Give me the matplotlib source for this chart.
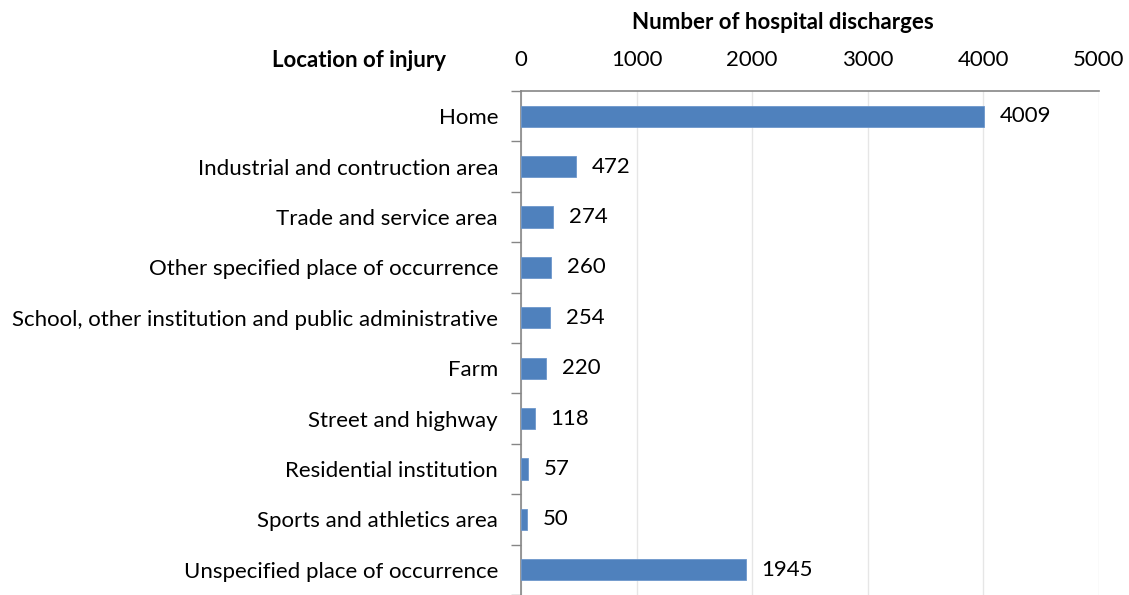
import matplotlib.pyplot as plt
from matplotlib.transforms import offset_copy

plt.rcParams['font.family'] = ['Lato', 'DejaVu Sans']

locations = ["Home", "Industrial and contruction area", "Trade and service area",
             "Other specified place of occurrence",
             "School, other institution and public administrative", "Farm",
             "Street and highway", "Residential institution",
             "Sports and athletics area", "Unspecified place of occurrence"]
discharges = [4009, 472, 274, 260, 254, 220, 118, 57, 50, 1945]
xticks = [0, 1000, 2000, 3000, 4000, 5000]

fig = plt.figure(figsize=(11.29, 5.95), dpi=100)
ax = fig.add_axes([0.4615, 0.0, 0.5115, 0.847])

pos = list(range(len(locations)))
ax.barh(pos, discharges, height=0.42, color='#4F81BD', edgecolor='#6D97CC', linewidth=0.6, zorder=3)

# value labels just right of each bar
trans = offset_copy(ax.transData, fig=fig, x=16, y=0, units='dots')
for p, v in zip(pos, discharges):
    ax.text(v, p, str(v), transform=trans, va='center', ha='left', fontsize=16)

ax.set_xlim(0, 5000)
ax.set_ylim(len(locations) - 0.5, -0.5)
ax.xaxis.tick_top()
ax.set_xticks(xticks)
ax.tick_params(axis='x', length=0, pad=15, labelsize=16)
ax.xaxis.grid(True, color='#E6E6E6', linewidth=1, zorder=0)

ax.set_yticks(pos)
ax.set_yticklabels(locations, fontsize=16)
ax.tick_params(axis='y', which='major', length=0, pad=16.5)
ax.set_yticks([p - 0.5 for p in pos] + [len(pos) - 0.5], minor=True)
ax.tick_params(axis='y', which='minor', length=7, width=1, color='#868686', direction='out')

for s in ['right', 'bottom']:
    ax.spines[s].set_visible(False)
for s in ['top', 'left']:
    ax.spines[s].set_color('#868686')
    ax.spines[s].set_linewidth(1.2)

fig.text(0.693, 0.963, "Number of hospital discharges", ha='center', va='center',
         fontsize=16, fontweight='bold')
fig.text(0.395, 0.899, "Location of injury", ha='right', va='center',
         fontsize=16, fontweight='bold')

fig.savefig('out.png', dpi=100)
